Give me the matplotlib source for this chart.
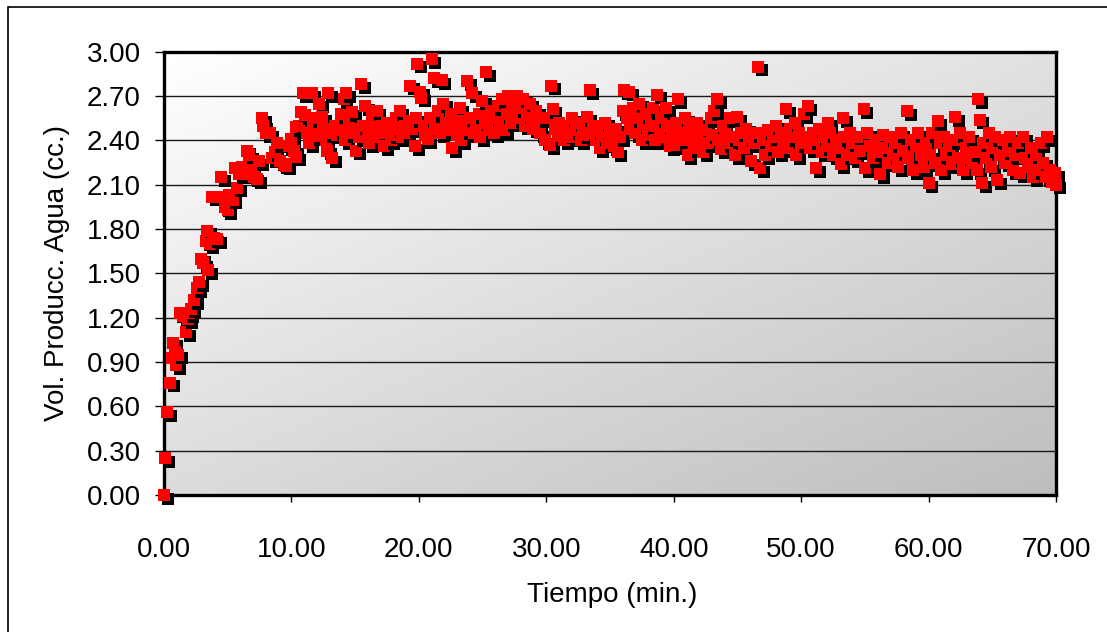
import numpy as np
import matplotlib
matplotlib.use('Agg')
import matplotlib.pyplot as plt
from matplotlib.patches import Rectangle
from matplotlib.transforms import ScaledTranslation

plt.rcParams['font.family'] = ['Liberation Sans', 'DejaVu Sans']

# (tiempo [min], volumen producido de agua [cc]) leidos por tramos
rampa = [
    (0.00, 0.00), (0.08, 0.25), (0.25, 0.56), (0.50, 0.76), (0.65, 0.93),
    (0.75, 1.03), (0.85, 0.97), (0.95, 0.88), (1.10, 0.95), (1.25, 1.23),
    (1.50, 1.21), (1.75, 1.10), (1.90, 1.19), (2.00, 1.23), (2.15, 1.26),
    (2.40, 1.32), (2.60, 1.40), (2.75, 1.44), (2.95, 1.60), (3.10, 1.57),
    (3.30, 1.72), (3.40, 1.79), (3.50, 1.52), (3.60, 1.70), (3.80, 2.02),
    (3.95, 1.74), (4.20, 1.73), (4.50, 2.15), (4.60, 2.02), (4.80, 1.95),
    (5.00, 1.93), (5.15, 2.03), (5.40, 2.00), (5.60, 2.21), (5.75, 2.08),
    (5.90, 2.17), (6.10, 2.22), (6.30, 2.17), (6.50, 2.33), (6.70, 2.30),
    (6.90, 2.20), (7.10, 2.15), (7.30, 2.14), (7.50, 2.26), (7.70, 2.55),
    (7.80, 2.50), (8.00, 2.45), (8.30, 2.45), (8.50, 2.28), (8.70, 2.32),
    (8.90, 2.38), (9.10, 2.26), (9.40, 2.24), (9.60, 2.23), (9.80, 2.36),
]

tramo_10_20 = [
    (10.0, 2.41), (10.2, 2.33), (10.4, 2.49), (10.4, 2.29), (10.6, 2.50),
    (10.8, 2.59), (10.9, 2.72), (11.1, 2.57), (11.2, 2.45), (11.4, 2.38),
    (11.6, 2.72), (11.7, 2.50), (11.9, 2.55), (12.0, 2.43), (12.2, 2.65),
    (12.4, 2.56), (12.5, 2.48), (12.7, 2.40), (12.8, 2.33), (12.9, 2.72),
    (13.0, 2.45), (13.2, 2.28), (13.4, 2.50), (13.6, 2.44), (13.8, 2.47),
    (13.9, 2.58), (14.1, 2.68), (14.2, 2.40), (14.3, 2.72), (14.5, 2.52),
    (14.6, 2.45), (14.8, 2.59), (15.0, 2.48), (15.1, 2.33), (15.3, 2.42),
    (15.5, 2.78), (15.6, 2.50), (15.8, 2.63), (16.0, 2.45), (16.1, 2.38),
    (16.3, 2.55), (16.5, 2.47), (16.7, 2.60), (16.8, 2.42), (17.0, 2.50),
    (17.1, 2.45), (17.3, 2.36), (17.5, 2.52), (17.7, 2.46), (17.8, 2.40),
    (18.0, 2.44), (18.2, 2.55), (18.3, 2.48), (18.5, 2.60), (18.7, 2.42),
    (18.9, 2.50), (19.0, 2.45), (19.2, 2.53), (19.3, 2.77), (19.5, 2.48),
    (19.7, 2.36), (19.8, 2.55), (19.9, 2.92),
]

tramo_20_30 = [
    (20.1, 2.73), (20.2, 2.69), (20.4, 2.50), (20.5, 2.44), (20.7, 2.41),
    (20.9, 2.55), (21.0, 2.95), (21.2, 2.82), (21.3, 2.48), (21.5, 2.60),
    (21.7, 2.45), (21.8, 2.81), (21.9, 2.65), (22.1, 2.52), (22.3, 2.47),
    (22.5, 2.58), (22.6, 2.35), (22.8, 2.50), (23.0, 2.44), (23.2, 2.62),
    (23.3, 2.40), (23.5, 2.53), (23.7, 2.47), (23.8, 2.80), (24.0, 2.55),
    (24.2, 2.72), (24.3, 2.45), (24.5, 2.50), (24.7, 2.58), (24.8, 2.42),
    (25.0, 2.67), (25.2, 2.52), (25.3, 2.86), (25.5, 2.47), (25.7, 2.60),
    (25.9, 2.45), (26.0, 2.55), (26.2, 2.63), (26.4, 2.50), (26.5, 2.68),
    (26.7, 2.47), (26.9, 2.58), (27.0, 2.70), (27.2, 2.52), (27.3, 2.65),
    (27.5, 2.60), (27.7, 2.70), (27.8, 2.55), (28.0, 2.62), (28.2, 2.68),
    (28.3, 2.50), (28.5, 2.58), (28.7, 2.65), (28.9, 2.55), (29.0, 2.48),
    (29.2, 2.60), (29.4, 2.52), (29.5, 2.45), (29.7, 2.55), (29.9, 2.40),
]

tramo_30_40 = [
    (30.1, 2.55), (30.3, 2.37), (30.4, 2.77), (30.5, 2.61), (30.7, 2.48),
    (30.9, 2.43), (31.0, 2.52), (31.2, 2.45), (31.4, 2.40), (31.6, 2.50),
    (31.8, 2.44), (32.0, 2.55), (32.1, 2.42), (32.3, 2.47), (32.5, 2.52),
    (32.7, 2.40), (32.9, 2.48), (33.0, 2.44), (33.2, 2.56), (33.4, 2.74),
    (33.5, 2.45), (33.7, 2.50), (33.9, 2.40), (34.0, 2.47), (34.2, 2.35),
    (34.4, 2.43), (34.6, 2.52), (34.8, 2.38), (35.0, 2.45), (35.1, 2.40),
    (35.3, 2.36), (35.5, 2.48), (35.6, 2.32), (35.8, 2.42), (36.0, 2.60),
    (36.1, 2.74), (36.3, 2.55), (36.5, 2.73), (36.6, 2.48), (36.8, 2.62),
    (37.0, 2.45), (37.1, 2.55), (37.3, 2.65), (37.5, 2.40), (37.6, 2.52),
    (37.8, 2.58), (38.0, 2.44), (38.2, 2.50), (38.4, 2.62), (38.5, 2.40),
    (38.7, 2.71), (38.9, 2.48), (39.0, 2.55), (39.2, 2.42), (39.4, 2.62),
    (39.5, 2.50), (39.7, 2.36), (39.9, 2.45),
]

tramo_40_50 = [
    (40.0, 2.37), (40.2, 2.52), (40.3, 2.68), (40.5, 2.45), (40.7, 2.40),
    (40.9, 2.55), (41.1, 2.30), (41.2, 2.48), (41.4, 2.42), (41.6, 2.35),
    (41.8, 2.52), (42.0, 2.45), (42.1, 2.40), (42.3, 2.32), (42.5, 2.47),
    (42.7, 2.38), (42.9, 2.55), (43.0, 2.44), (43.2, 2.60), (43.4, 2.68),
    (43.5, 2.40), (43.7, 2.34), (43.9, 2.50), (44.0, 2.45), (44.2, 2.38),
    (44.4, 2.55), (44.6, 2.42), (44.8, 2.30), (45.0, 2.56), (45.1, 2.40),
    (45.3, 2.45), (45.5, 2.35), (45.7, 2.48), (45.9, 2.42), (46.1, 2.26),
    (46.3, 2.38), (46.5, 2.45), (46.6, 2.90), (46.8, 2.21), (47.0, 2.40),
    (47.2, 2.30), (47.4, 2.47), (47.6, 2.36), (47.8, 2.42), (48.0, 2.50),
    (48.2, 2.32), (48.4, 2.45), (48.6, 2.40), (48.8, 2.61), (48.9, 2.35),
    (49.1, 2.48), (49.3, 2.42), (49.5, 2.52), (49.6, 2.30), (49.8, 2.45),
    (50.0, 2.38),
]

tramo_50_60 = [
    (50.2, 2.58), (50.4, 2.42), (50.5, 2.63), (50.7, 2.35), (50.9, 2.45),
    (51.0, 2.40), (51.2, 2.21), (51.4, 2.48), (51.6, 2.32), (51.8, 2.42),
    (52.0, 2.36), (52.1, 2.52), (52.3, 2.45), (52.5, 2.30), (52.7, 2.40),
    (52.9, 2.35), (53.1, 2.24), (53.3, 2.55), (53.4, 2.42), (53.6, 2.30),
    (53.8, 2.45), (54.0, 2.38), (54.2, 2.28), (54.4, 2.42), (54.6, 2.33),
    (54.9, 2.61), (55.0, 2.21), (55.2, 2.45), (55.4, 2.36), (55.6, 2.28),
    (55.8, 2.40), (56.0, 2.32), (56.2, 2.17), (56.4, 2.44), (56.6, 2.35),
    (56.8, 2.25), (57.0, 2.42), (57.2, 2.30), (57.4, 2.38), (57.6, 2.22),
    (57.8, 2.45), (58.0, 2.33), (58.3, 2.60), (58.4, 2.28), (58.6, 2.40),
    (58.8, 2.20), (59.0, 2.36), (59.2, 2.45), (59.4, 2.30), (59.6, 2.22),
    (59.8, 2.38),
]

tramo_60_70 = [
    (60.0, 2.11), (60.1, 2.30), (60.3, 2.45), (60.5, 2.25), (60.7, 2.53),
    (60.9, 2.38), (61.0, 2.20), (61.2, 2.42), (61.4, 2.30), (61.6, 2.36),
    (61.8, 2.24), (62.0, 2.40), (62.1, 2.56), (62.3, 2.28), (62.5, 2.45),
    (62.7, 2.20), (62.9, 2.35), (63.0, 2.28), (63.2, 2.42), (63.4, 2.25),
    (63.6, 2.32), (63.8, 2.20), (63.9, 2.68), (64.0, 2.54), (64.2, 2.11),
    (64.3, 2.38), (64.5, 2.28), (64.7, 2.45), (64.9, 2.22), (65.0, 2.35),
    (65.2, 2.42), (65.4, 2.13), (65.6, 2.30), (65.8, 2.40), (66.0, 2.25),
    (66.2, 2.33), (66.4, 2.42), (66.6, 2.20), (66.8, 2.30), (67.0, 2.38),
    (67.2, 2.18), (67.4, 2.42), (67.6, 2.28), (67.8, 2.22), (68.0, 2.35),
    (68.2, 2.15), (68.4, 2.30), (68.6, 2.20), (68.8, 2.38), (69.0, 2.25),
    (69.2, 2.15), (69.3, 2.42), (69.5, 2.20), (69.7, 2.12), (69.9, 2.18),
    (70.0, 2.10),
]

x_ticks = [0, 10, 20, 30, 40, 50, 60, 70]
y_ticks = [0.00, 0.30, 0.60, 0.90, 1.20, 1.50, 1.80, 2.10, 2.40, 2.70, 3.00]

puntos = (rampa + tramo_10_20 + tramo_20_30 + tramo_30_40 + tramo_40_50
          + tramo_50_60 + tramo_60_70)
tiempo = [p[0] for p in puntos]
volumen = [p[1] for p in puntos]

fig = plt.figure(figsize=(11.07, 6.32), dpi=100)
ax = fig.add_axes([0.148, 0.217, 0.806, 0.701])

# fondo degradado blanco -> gris (arriba-izquierda a abajo-derecha)
u, v = np.meshgrid(np.linspace(0, 1, 200), np.linspace(0, 1, 200))
shade = 1.0 - 0.12 * u - 0.14 * v
ax.imshow(shade, cmap='gray', vmin=0, vmax=1, extent=(0, 1, 0, 1),
          transform=ax.transAxes, aspect='auto', interpolation='bilinear',
          zorder=0)

# cada marcador con su sombra negra desplazada
sombra = ScaledTranslation(0.037, -0.037, fig.dpi_scale_trans)
for t, vol in zip(tiempo, volumen):
    ax.scatter(t, vol, s=82, marker='s', color='black', linewidths=0,
               transform=ax.transData + sombra, clip_on=False, zorder=3)
    ax.scatter(t, vol, s=82, marker='s', color='#ff0000', linewidths=0,
               clip_on=False, zorder=3)

ax.set_xlim(0, 70)
ax.set_ylim(0, 3.0)
ax.set_xticks(x_ticks)
ax.set_yticks(y_ticks)
ax.set_xticklabels(['{:.2f}'.format(x) for x in x_ticks])
ax.set_yticklabels(['{:.2f}'.format(y) for y in y_ticks])
ax.yaxis.grid(True, color='#1a1a1a', linewidth=1.0)
ax.set_axisbelow(True)

for s in ax.spines.values():
    s.set_linewidth(2.4)
    s.set_color('black')

ax.tick_params(axis='y', direction='out', length=6.5, width=1, labelsize=20,
               pad=10)
ax.tick_params(axis='x', direction='out', length=5, width=1, labelsize=20,
               pad=25)

ax.set_xlabel('Tiempo (min.)', fontsize=20)
ax.set_ylabel('Vol. Producc. Agua (cc.)', fontsize=20)
ax.xaxis.set_label_coords(0.502, -0.197)
ax.yaxis.set_label_coords(-0.105, 0.5)

# marco exterior del grafico
fig.patches.append(Rectangle((0.0072, -0.2), 1.5, 1.189, transform=fig.transFigure,
                             fill=False, edgecolor='black', linewidth=1.2))

fig.savefig('out.png', dpi=100)
